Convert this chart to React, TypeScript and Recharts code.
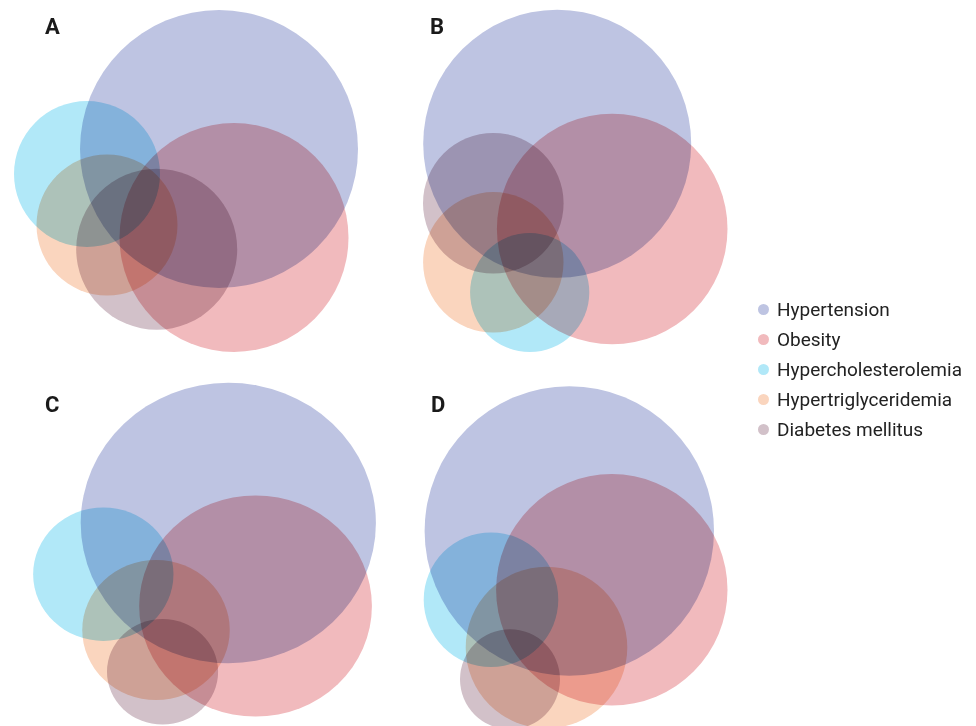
import { ScatterChart, Scatter, XAxis, YAxis } from 'recharts';

// Venn-style circles: each set is one circle per panel (centre x, centre y, radius in panel units)
const SETS = ['Hypertension', 'Obesity', 'Hypercholesterolemia', 'Hypertriglyceridemia', 'Diabetes mellitus'];
const COLORS = ['#bec4e2', '#f1babd', '#b1e8f8', '#fad5be', '#d2c1c9'];

const aX = [219, 234, 87, 107, 156.7];
const aY = [149, 237.5, 174, 225, 249.2];
const aR = [139, 114.5, 73, 70.5, 80.5];

const bX = [157.2, 212.2, 129.7, 93.3, 93.3];
const bY = [143.8, 229, 292.5, 262.3, 203.3];
const bR = [134, 115.3, 59.6, 70.2, 70.3];

const cX = [217, 242.9, 98.2, 148.3, 154.5];
const cY = [153, 236, 204.2, 260, 301.8];
const cR = [140.3, 110.6, 66.7, 70.1, 52.8];

const dX = [169.3, 211.8, 91, 146.5, 110];
const dY = [161, 219.8, 229.7, 277.5, 309.3];
const dR = [144.7, 115.7, 67.3, 80.8, 50];

interface PanelProps {
  label: string;
  left: number;
  top: number;
  width: number;
  height: number;
  xMax: number;
  yMax: number;
  xs: number[];
  ys: number[];
  rs: number[];
}

const panels: PanelProps[] = [
  { label: 'A', left: 0, top: 0, width: 380, height: 360, xMax: 380, yMax: 360, xs: aX, ys: aY, rs: aR },
  { label: 'B', left: 400, top: 0, width: 340, height: 360, xMax: 340, yMax: 360, xs: bX, ys: bY, rs: bR },
  { label: 'C', left: 0, top: 370, width: 390, height: 356, xMax: 370.7, yMax: 356, xs: cX, ys: cY, rs: cR },
  { label: 'D', left: 400, top: 370, width: 340, height: 356, xMax: 340, yMax: 356, xs: dX, ys: dY, rs: dR },
];

function VennPanel({ label, left, top, width, height, xMax, yMax, xs, ys, rs }: PanelProps) {
  // pixels per data unit, so the radius follows the same scale as the centres
  const kx = width / xMax;
  const ky = height / yMax;

  return (
    <div style={{ position: 'absolute', left, top, width, height }}>
      <ScatterChart width={width} height={height} margin={{ top: 0, right: 0, bottom: 0, left: 0 }}>
        <XAxis type="number" dataKey="x" domain={[0, xMax]} hide />
        <YAxis type="number" dataKey="y" domain={[0, yMax]} reversed hide />
        {SETS.map((name, i) => (
          <Scatter
            key={name}
            name={name}
            data={[{ x: xs[i], y: ys[i], r: rs[i] }]}
            isAnimationActive={false}
            shape={(p: any) => (
              <ellipse
                cx={p.cx}
                cy={p.cy}
                rx={p.payload.r * kx}
                ry={p.payload.r * ky}
                fill={COLORS[i]}
                style={{ mixBlendMode: 'multiply' }}
              />
            )}
          />
        ))}
      </ScatterChart>
      <div
        style={{
          position: 'absolute',
          left: label === 'B' ? 30 : label === 'D' ? 31 : 45,
          top: label === 'A' || label === 'B' ? 15.5 : 23.5,
          fontFamily: 'Roboto, sans-serif',
          fontWeight: 700,
          fontSize: 22,
          lineHeight: '22px',
          color: '#1a1a1a',
        }}
      >
        {label}
      </div>
    </div>
  );
}

function VennLegend() {
  return (
    <div style={{ position: 'absolute', left: 758, top: 294.5 }}>
      {SETS.map((name, i) => (
        <div key={name} style={{ display: 'flex', alignItems: 'center', height: 30 }}>
          <div
            style={{ width: 11, height: 11, borderRadius: '50%', background: COLORS[i], marginRight: 8 }}
          />
          <span
            style={{
              fontFamily: 'Roboto, sans-serif',
              fontSize: 19,
              lineHeight: '30px',
              color: '#222',
            }}
          >
            {name}
          </span>
        </div>
      ))}
    </div>
  );
}

export default function App() {
  return (
    <div
      style={{
        position: 'absolute',
        left: 0,
        top: 0,
        width: 976,
        height: 726,
        background: '#fff',
        overflow: 'hidden',
      }}
    >
      {panels.map((p) => (
        <VennPanel key={p.label} {...p} />
      ))}
      <VennLegend />
    </div>
  );
}
